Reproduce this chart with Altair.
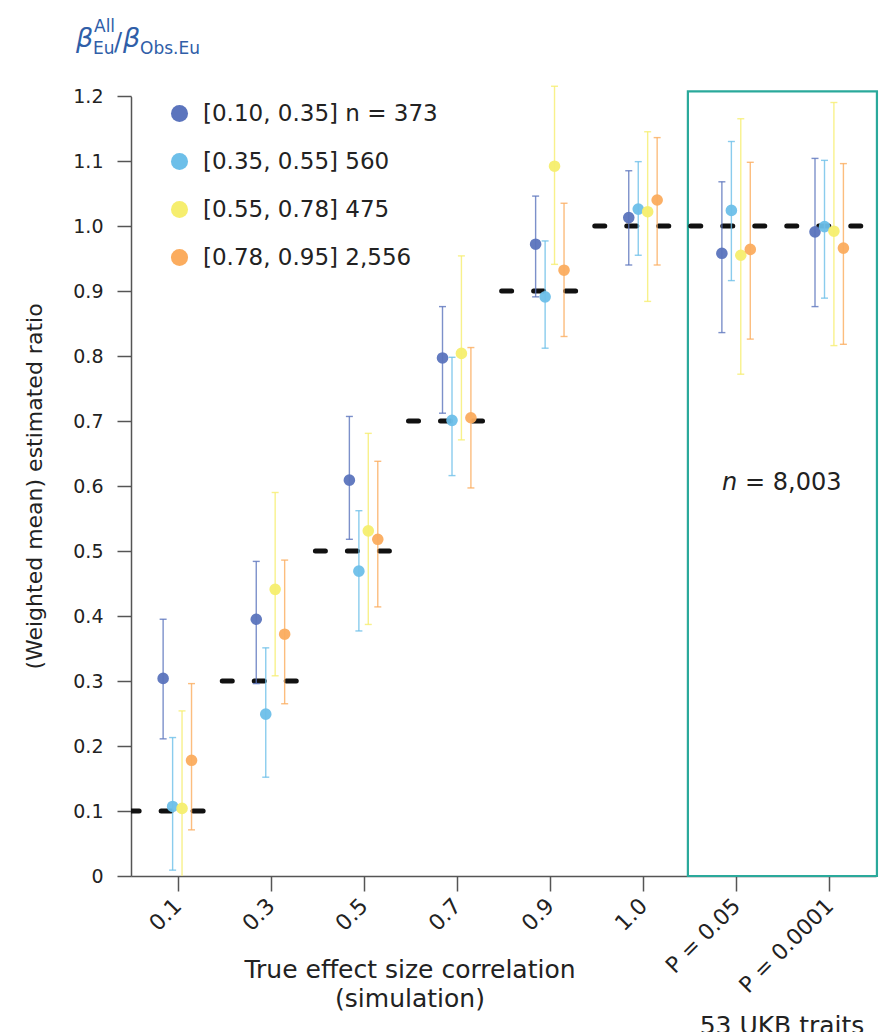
import json

import altair as alt
import pandas as pd


categories = ["0.1", "0.3", "0.5", "0.7", "0.9", "1.0", "P = 0.05", "P = 0.0001"]
truth = [0.1, 0.3, 0.5, 0.7, 0.9, 1.0, 1.0, 1.0]

groups = ["[0.10, 0.35] n = 373", "[0.35, 0.55] 560", "[0.55, 0.78] 475", "[0.78, 0.95] 2,556"]
colors = ["#5b74bd", "#6dbfe9", "#f6ee6e", "#fbac5e"]
dodge = [-0.155, -0.053, 0.048, 0.15]

est_1 = [0.304, 0.395, 0.609, 0.797, 0.972, 1.013, 0.958, 0.991]
lo_1 = [0.211, 0.296, 0.518, 0.712, 0.891, 0.940, 0.836, 0.876]
hi_1 = [0.395, 0.484, 0.707, 0.876, 1.046, 1.085, 1.068, 1.104]

est_2 = [0.107, 0.249, 0.469, 0.701, 0.891, 1.026, 1.024, 0.999]
lo_2 = [0.009, 0.152, 0.377, 0.616, 0.812, 0.955, 0.916, 0.889]
hi_2 = [0.213, 0.351, 0.562, 0.798, 0.977, 1.099, 1.130, 1.101]

est_3 = [0.104, 0.441, 0.531, 0.804, 1.092, 1.022, 0.955, 0.992]
lo_3 = [0.0, 0.308, 0.387, 0.671, 0.941, 0.884, 0.772, 0.816]
hi_3 = [0.254, 0.590, 0.681, 0.954, 1.215, 1.145, 1.165, 1.190]

est_4 = [0.178, 0.372, 0.518, 0.705, 0.932, 1.040, 0.964, 0.966]
lo_4 = [0.071, 0.265, 0.414, 0.597, 0.830, 0.940, 0.826, 0.818]
hi_4 = [0.296, 0.486, 0.638, 0.813, 1.035, 1.136, 1.098, 1.096]

y_ticks = [0, 0.1, 0.2, 0.3, 0.4, 0.5, 0.6, 0.7, 0.8, 0.9, 1.0, 1.1, 1.2]

# UKB box (x in category units, y in ratio units)
box = pd.DataFrame({"x": [5.48], "x2": [7.51], "y": [0.0], "y2": [1.207]})

FONT = "DejaVu Sans"
TITLE_BLUE = "#2f5ea8"

rows = []
for k, (g, est, lo, hi) in enumerate(zip(groups, [est_1, est_2, est_3, est_4],
                                         [lo_1, lo_2, lo_3, lo_4], [hi_1, hi_2, hi_3, hi_4])):
    for i in range(len(categories)):
        rows.append({"group": g, "pos": i + dodge[k], "est": est[i], "lo": lo[i], "hi": hi[i]})
df = pd.DataFrame(rows)

segs = []
for i, t in enumerate(truth):
    if segs and segs[-1]["truth"] == t:
        segs[-1]["end"] = i + 0.37
    else:
        segs.append({"truth": t, "start": i - 0.52, "end": i + 0.36})
ref = pd.DataFrame(segs)

xscale = alt.Scale(domain=[-0.5, 7.5], nice=False, zero=False)
yscale = alt.Scale(domain=[0, 1.2], nice=False)
legend = alt.Legend(title=None, orient="none", legendX=37, legendY=6,
                    symbolType="circle", symbolSize=290, symbolOpacity=1,
                    symbolStrokeWidth=0, labelFont=FONT, labelFontSize=23,
                    labelColor="#222", labelOffset=12, rowPadding=24, labelLimit=400)
color = alt.Color("group:N", scale=alt.Scale(domain=groups, range=colors), legend=legend)

x_axis = alt.Axis(values=list(range(len(categories))),
                  labelExpr=json.dumps(categories) + "[datum.value]",
                  labelAngle=-45, labelAlign="right", labelBaseline="middle",
                  labelOverlap=False, labelFont=FONT, labelFontSize=22, labelColor="#222",
                  labelPadding=11, tickSize=15, tickWidth=1.5, tickColor="#555",
                  domainColor="#555", domainWidth=1.5, grid=False, title=None)
y_axis = alt.Axis(values=y_ticks, labelExpr="datum.value == 0 ? '0' : format(datum.value, '.1f')",
                  labelOverlap=False, labelFont=FONT, labelFontSize=19, labelColor="#222",
                  labelPadding=14, tickSize=14, tickWidth=1.5, tickColor="#555",
                  domainColor="#555", domainWidth=1.5, grid=False,
                  title="(Weighted mean) estimated ratio",
                  titleFont=FONT, titleFontSize=22, titleFontWeight="normal",
                  titleColor="#222", titlePadding=26)

# white edge along the top of the plot, to hide the faint top border line
top_edge = pd.DataFrame({"x": [-0.49], "x2": [7.5], "y": [1.2]})
edge = alt.Chart(top_edge).mark_rule(color="white", strokeWidth=2.5).encode(
    x=alt.X("x:Q", scale=xscale, axis=x_axis),
    x2="x2:Q",
    y=alt.Y("y:Q", scale=yscale, axis=y_axis),
)

frame = alt.Chart(box).mark_rect(fillOpacity=0, stroke="#2aa99b", strokeWidth=2.2).encode(
    x=alt.X("x:Q", scale=xscale),
    x2="x2:Q",
    y=alt.Y("y:Q", scale=yscale),
    y2="y2:Q",
)

lines = alt.Chart(ref).mark_rule(color="#111", strokeWidth=5, strokeDash=[10, 22],
                                 strokeCap="round", clip=True).encode(
    x=alt.X("start:Q", scale=xscale),
    x2="end:Q",
    y=alt.Y("truth:Q", scale=yscale),
)

bars = alt.Chart(df).mark_rule(strokeWidth=1.4, opacity=0.8).encode(
    x=alt.X("pos:Q", scale=xscale),
    y=alt.Y("lo:Q", scale=yscale),
    y2="hi:Q",
    color=color,
)

cap_hi = alt.Chart(df).mark_tick(orient="horizontal", size=7, thickness=1.4, opacity=0.8).encode(
    x=alt.X("pos:Q", scale=xscale),
    y=alt.Y("hi:Q", scale=yscale),
    color=color,
)

cap_lo = alt.Chart(df).mark_tick(orient="horizontal", size=7, thickness=1.4, opacity=0.8).encode(
    x=alt.X("pos:Q", scale=xscale),
    y=alt.Y("lo:Q", scale=yscale),
    color=color,
).transform_filter("datum.lo > 0")

points = alt.Chart(df).mark_circle(size=135, opacity=0.95).encode(
    x=alt.X("pos:Q", scale=xscale),
    y=alt.Y("est:Q", scale=yscale),
    color=color,
)

one = pd.DataFrame({"k": [0]})


def label(text, x, y, size, **kw):
    opts = dict(font=FONT, fontSize=size, align="left", baseline="alphabetic", color="#222")
    opts.update(kw)
    return alt.Chart(one).mark_text(text=text, **opts).encode(x=alt.value(x), y=alt.value(y))


texts = [
    # y title: beta^All_Eu / beta_Obs.Eu
    label("β", -55, -49, 27, fontStyle="italic", color=TITLE_BLUE),
    label("All", -37, -64, 17, color=TITLE_BLUE),
    label("Eu", -38, -42, 17, color=TITLE_BLUE),
    label("/", -17, -46, 24, color=TITLE_BLUE),
    label("β", -8, -49, 27, fontStyle="italic", color=TITLE_BLUE),
    label("Obs.Eu", 9, -42, 17, color=TITLE_BLUE),
    # box annotation
    label("n", 591, 394, 24, fontStyle="italic"),
    label("= 8,003", 614, 394, 24),
    # x titles
    label("True effect size correlation", 279, 882, 25, align="center"),
    label("(simulation)", 279, 911, 25, align="center"),
    label("53 UKB traits", 651, 938, 25, align="center"),
]

chart = alt.layer(edge, frame, lines, bars, cap_hi, cap_lo, points, *texts).properties(
    width=745,
    height=780,
    autosize=alt.AutoSizeParams(type="none"),
    padding={"left": 123, "top": 88, "right": 10, "bottom": 180},
).configure(
    view={"stroke": "transparent", "strokeWidth": 0},
    axis={"grid": False},
)

chart.save("out.html", embed_options={"renderer": "svg", "actions": False})
